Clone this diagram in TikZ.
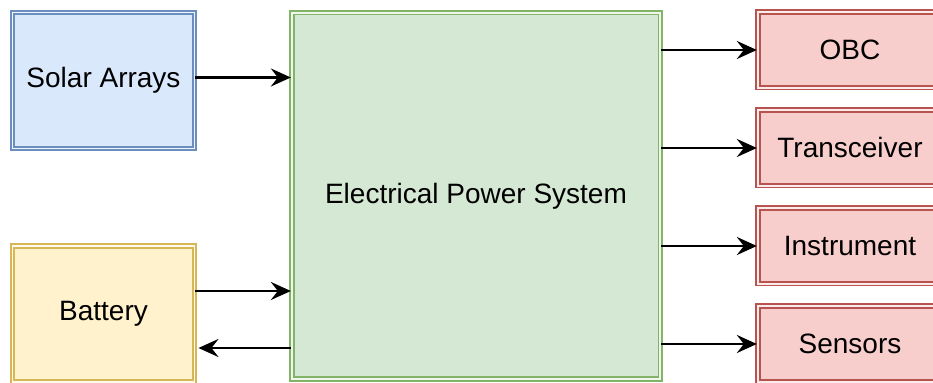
\documentclass[tikz,border=0pt]{standalone}
\usepackage{fontspec}
\setmainfont{Liberation Sans}
\usetikzlibrary{arrows.meta}

\definecolor{solarfill}{HTML}{DAE8FC}
\definecolor{solarline}{HTML}{6C8EBF}
\definecolor{battfill}{HTML}{FFF2CC}
\definecolor{battline}{HTML}{D6B656}
\definecolor{epsfill}{HTML}{D5E8D4}
\definecolor{epsline}{HTML}{82B366}
\definecolor{loadfill}{HTML}{F8CECC}
\definecolor{loadline}{HTML}{B85450}

\tikzset{
  dblock/.style={draw=#1line, fill=#1fill, double=#1fill!40!white,
    line width=0.95pt, double distance=0.8pt, font=\fontsize{14}{16}\selectfont,
    inner sep=0pt},
  srcbox/.style={dblock=#1, minimum width=91pt, minimum height=68pt},
  loadbox/.style={dblock=load, minimum width=92.2pt, minimum height=37.8pt},
  flow/.style={->, line width=1.25pt}
}

\begin{document}
        \begin{tikzpicture}[>={Stealth[length=10pt, width=9pt, inset=3.5pt]}, x=0.5pt, y=-0.5pt]
            \useasboundingbox (0, 0) rectangle (933, 383);

            \node[srcbox=solar] (solar) at (103.5, 80.5) {Solar Arrays};
            \node[srcbox=batt] (batt) at (103.5, 314) {Battery};
            \node[dblock=eps, minimum width=184.2pt, minimum height=183.2pt] (eps) at (476, 196) {Electrical Power System};

            \node[loadbox] (obc) at (850, 50) {OBC};
            \node[loadbox] (trx) at (850, 148) {Transceiver};
            \node[loadbox] (instr) at (850, 246) {Instrument};
            \node[loadbox] (sens) at (850, 344) {Sensors};

            \draw[flow] ([yshift=1.5pt]solar.east) -- ([yshift=1.5pt]solar.east -| eps.west);
            \draw[flow] ([yshift=11.5pt]batt.east) -- ([yshift=11.5pt]batt.east -| eps.west);
            \draw[flow] ([yshift=-17pt]batt.east -| eps.west) -- ([yshift=-17pt, xshift=1.5pt]batt.east);

            \draw[flow] (obc.west -| eps.east) -- (obc.west);
            \draw[flow] (trx.west -| eps.east) -- (trx.west);
            \draw[flow] (instr.west -| eps.east) -- (instr.west);
            \draw[flow] (sens.west -| eps.east) -- (sens.west);
        \end{tikzpicture}
\end{document}
